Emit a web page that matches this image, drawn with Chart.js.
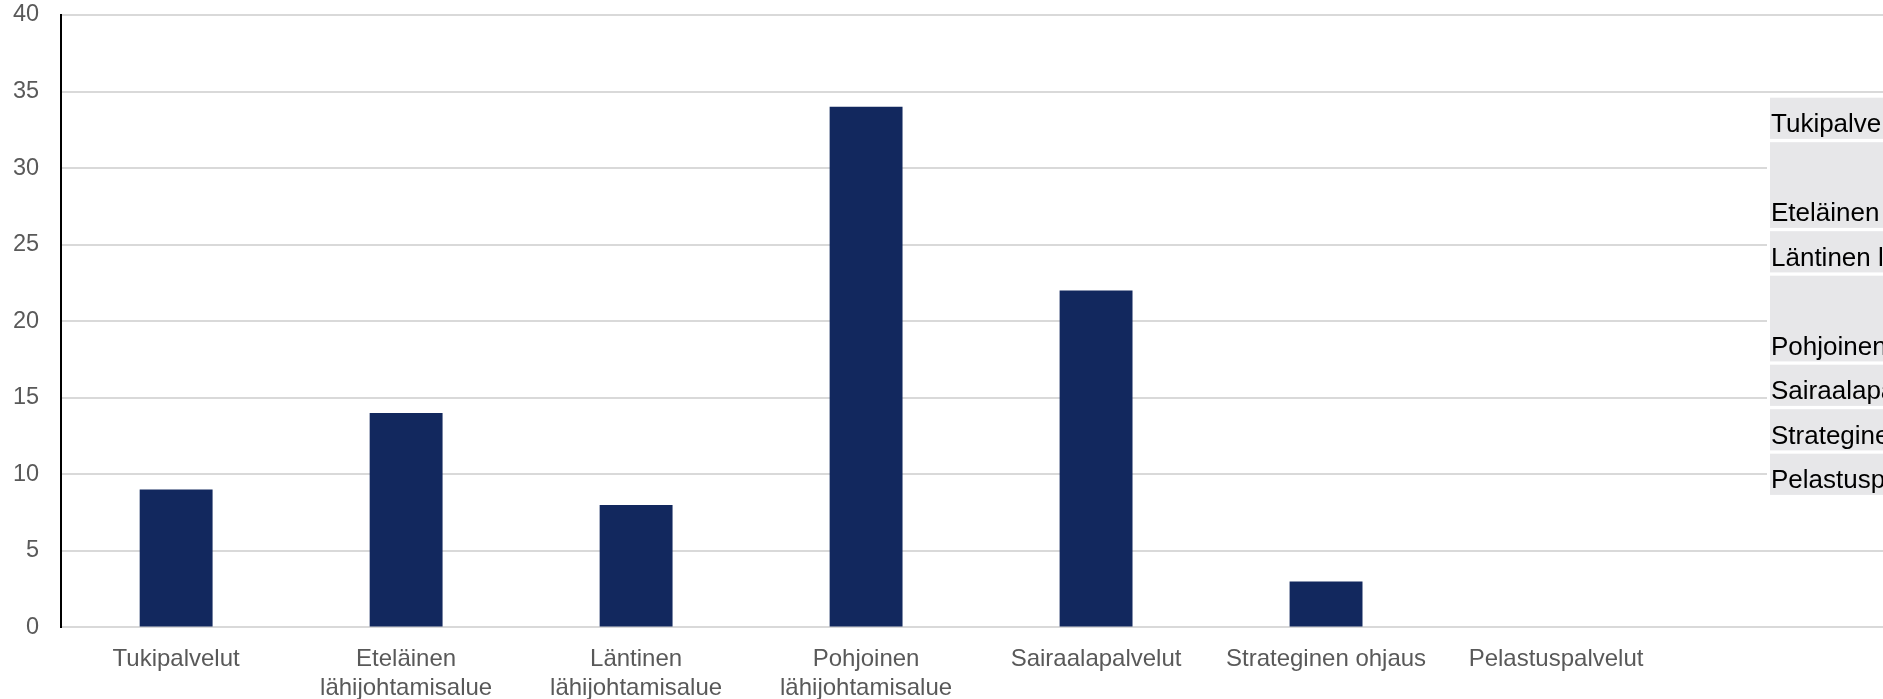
<!DOCTYPE html>
<html>
<head>
<meta charset="utf-8">
<script src="https://cdn.jsdelivr.net/npm/chart.js@4/dist/chart.umd.min.js"></script>
<style>
    html, body { margin: 0; padding: 0; background: #fff; overflow: hidden; }
    #wrap { width: 1883px; height: 699px; overflow: hidden; position: relative; }
    #inner { width: 1905px; height: 699px; }
</style>
</head>
<body>
<div id="wrap"><div id="inner"><canvas id="barChart" width="1905" height="699"></canvas></div></div>
<script>
// Data
const categories = [
    'Tukipalvelut',
    ['Eteläinen', 'lähijohtamisalue'],
    ['Läntinen', 'lähijohtamisalue'],
    ['Pohjoinen', 'lähijohtamisalue'],
    'Sairaalapalvelut',
    'Strateginen ohjaus',
    'Pelastuspalvelut',
    ''
];
const counts = [9, 14, 8, 34, 22, 3, 0, null];
const yTicks = [0, 5, 10, 15, 20, 25, 30, 35, 40];

// rows of the cropped table on the right: how many text lines each one is tall
const tableRowSpan = [1, 2, 1, 2, 1, 1, 1];

Chart.defaults.font.family = "'Liberation Sans', Arial, sans-serif";
Chart.defaults.color = '#595959';

const sideTable = {
    id: 'sideTable',
    afterDraw(chart) {
        const ctx = chart.ctx;
        const x0 = 1767, top = 95, unit = 41.2, gap = 3.3;
        ctx.save();
        ctx.fillStyle = '#ffffff';
        ctx.fillRect(x0, top, chart.width - x0, 395);
        let y = top + 2.7;
        ctx.font = "26px 'Liberation Sans', Arial, sans-serif";
        ctx.textBaseline = 'alphabetic';
        tableRowSpan.forEach(function (span, i) {
            const lab = categories[i];
            const txt = Array.isArray(lab) ? lab.join(' ') : lab;
            const h = unit * span + (span - 1) * gap;
            ctx.fillStyle = '#e7e7e9';
            ctx.fillRect(x0 + 3, y, chart.width - x0, h);
            ctx.fillStyle = '#000000';
            ctx.fillText(txt, x0 + 4, y + h - 6.5);
            y += h + gap;
        });
        ctx.restore();
    }
};

const ctxBar = document.getElementById('barChart').getContext('2d');
new Chart(ctxBar, {
    type: 'bar',
    data: {
        labels: categories,
        datasets: [{
            data: counts,
            backgroundColor: '#12285e',
            borderWidth: 0,
            barPercentage: 0.317,
            categoryPercentage: 1.0
        }]
    },
    options: {
        responsive: false,
        animation: false,
        devicePixelRatio: 1,
        layout: { padding: { left: 13, top: 15, right: 4, bottom: -3.5 } },
        plugins: {
            legend: { display: false },
            tooltip: { enabled: false }
        },
        scales: {
            x: {
                grid: { display: false, tickLength: 17.5 },
                border: { display: false },
                ticks: {
                    font: { size: 24, lineHeight: 1.2 },
                    color: '#595959',
                    padding: 0,
                    maxRotation: 0,
                    autoSkip: false
                }
            },
            y: {
                min: 0,
                max: 40,
                afterBuildTicks: function (scale) {
                    scale.ticks = yTicks.map(function (v) { return { value: v }; });
                },
                grid: { color: '#d9d9d9', lineWidth: 2, drawTicks: true, tickLength: 22, tickColor: 'rgba(0,0,0,0)' },
                border: { display: true, color: '#000000', width: 2 },
                ticks: {
                    font: { size: 23.5 },
                    color: '#595959',
                    padding: 0
                }
            }
        }
    },
    plugins: [sideTable]
});
</script>
</body>
</html>
